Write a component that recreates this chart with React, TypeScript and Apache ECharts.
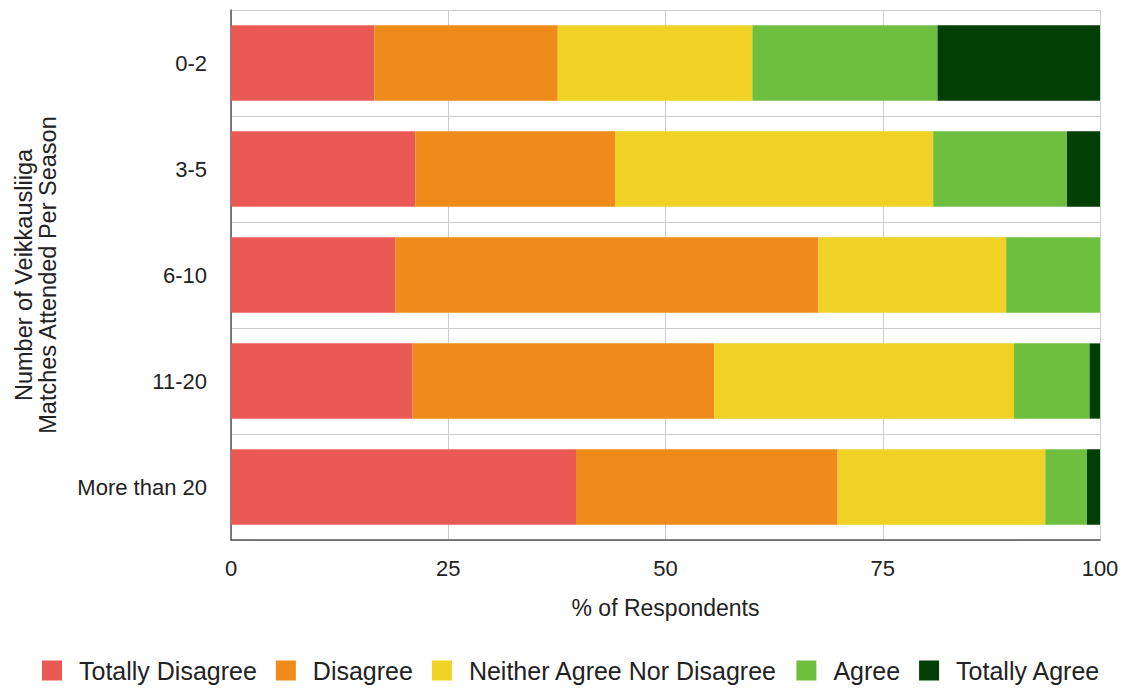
import React, { useEffect, useRef } from "react";
import * as echarts from "echarts";

const categories = ["0-2", "3-5", "6-10", "11-20", "More than 20"];
const seriesNames = [
  "Totally Disagree",
  "Disagree",
  "Neither Agree Nor Disagree",
  "Agree",
  "Totally Agree",
];
const totallyDisagree = [16.5, 21.2, 18.9, 20.9, 39.7];
const disagree = [21.1, 23.0, 48.7, 34.7, 30.1];
const neither = [22.4, 36.6, 21.6, 34.5, 23.9];
const agree = [21.3, 15.4, 10.8, 8.7, 4.8];
const totallyAgree = [18.7, 3.8, 0, 1.2, 1.5];
const xTicks = [0, 25, 50, 75, 100];

const colors = ["#E95A54", "#EE8B1A", "#F0D125", "#6EBF3E", "#013F04"];
const FONT = "'Liberation Sans', Helvetica, Arial, sans-serif";

export default function App() {
  const ref = useRef<HTMLDivElement>(null);
  useEffect(() => {
    document.body.style.margin = "0";
    if (!ref.current) return;
    const chart = echarts.init(ref.current, undefined, { renderer: "svg" });
    const data = [totallyDisagree, disagree, neither, agree, totallyAgree];
    chart.setOption({
      animation: false,
      textStyle: { fontFamily: FONT },
      grid: { left: 231, right: 32, top: 10, bottom: 151, containLabel: false },
      legend: {
        bottom: 3,
        left: 37,
        itemWidth: 20,
        itemHeight: 20,
        itemGap: 19,
        icon: "rect",
        data: seriesNames,
        textStyle: {
          fontFamily: FONT,
          fontSize: 25,
          color: "#222",
          padding: [0, 0, 0, 12],
        },
      },
      xAxis: {
        type: "value",
        min: xTicks[0],
        max: xTicks[xTicks.length - 1],
        interval: 25,
        name: "% of Respondents",
        nameLocation: "middle",
        nameGap: 56,
        nameTextStyle: { fontFamily: FONT, fontSize: 23, color: "#222" },
        axisLine: { show: true, lineStyle: { color: "#555", width: 1.5 } },
        axisTick: { show: false },
        axisLabel: {
          fontFamily: FONT,
          fontSize: 22,
          color: "#222",
          margin: 17,
        },
        splitLine: { show: true, lineStyle: { color: "#cccccc", width: 1 } },
      },
      yAxis: {
        type: "category",
        data: categories,
        inverse: true,
        name: "Number of Veikkausliiga\nMatches Attended Per Season",
        nameLocation: "middle",
        nameRotate: 90,
        nameGap: 171,
        nameTextStyle: {
          fontFamily: FONT,
          fontSize: 23.5,
          color: "#222",
          lineHeight: 24,
        },
        axisLine: { show: true, lineStyle: { color: "#555", width: 1.5 } },
        axisTick: { show: false },
        axisLabel: {
          fontFamily: FONT,
          fontSize: 22,
          color: "#222",
          margin: 24,
        },
        splitLine: { show: true, lineStyle: { color: "#cccccc", width: 1 } },
      },
      series: seriesNames.map((name, i) => ({
        name,
        type: "bar",
        stack: "total",
        barCategoryGap: "29%",
        itemStyle: { color: colors[i] },
        emphasis: { disabled: true },
        data: data[i],
      })),
    });
    return () => chart.dispose();
  }, []);
  return <div ref={ref} style={{ width: 1132, height: 691 }} />;
}
